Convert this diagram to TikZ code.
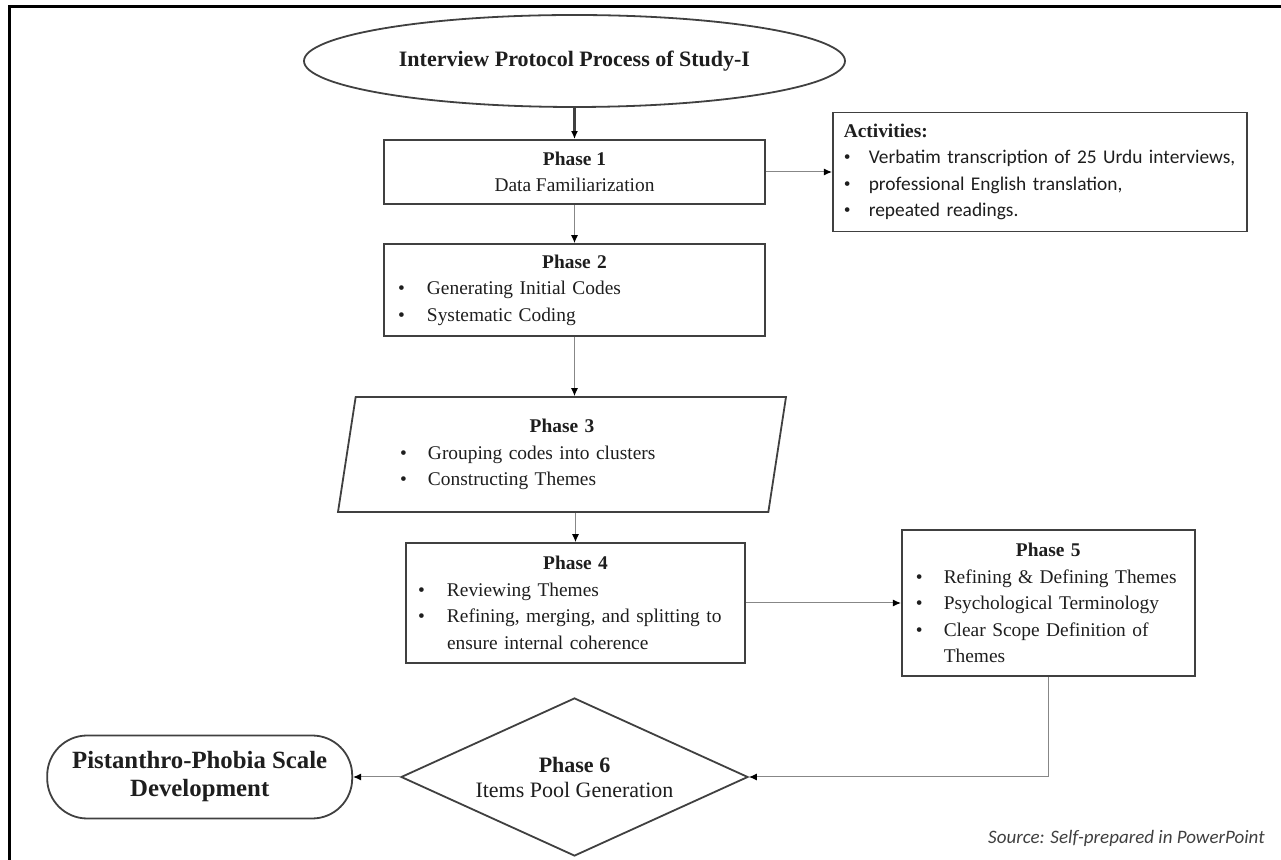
\documentclass[tikz,border=0pt]{standalone}
\usepackage{fontspec}
\setmainfont{Liberation Serif}
\newfontfamily\calibrifont{Carlito}
\usetikzlibrary{arrows.meta, positioning, shapes.geometric, calc}
\definecolor{BoxLine}{RGB}{64, 64, 64}
\definecolor{LinkGray}{RGB}{135, 135, 135}
\definecolor{TextDark}{RGB}{30, 30, 30}
\newcommand{\phbul}[1][14.5pt]{\makebox[#1][l]{\textbullet}}
\newcommand{\phhead}[1]{\hfill\textbf{#1}\hfill\null\\}

\begin{document}
\begin{tikzpicture}[
    x=0.5pt, y=-0.5pt,
    every node/.style={text=TextDark},
    phase/.style={draw=BoxLine, line width=0.9pt, fill=white, inner xsep=7pt, inner ysep=0pt, font=\fontsize{9.7}{13.3}\selectfont},
    bulletbox/.style={phase, align=left},
    link/.style={-{Latex[length=4pt, width=3.5pt, color=black]}, LinkGray, line width=0.5pt},
    mainlink/.style={-{Latex[length=4pt, width=3.5pt, color=black]}, BoxLine, line width=1.1pt}
]
\useasboundingbox (0,0) rectangle (1281,860);

% Frame
\draw[line width=1.5pt] (9,860) -- (9,7) -- (1281,7);

% Title
\node[ellipse, draw=BoxLine, line width=0.9pt, minimum width=270.5pt, minimum height=46pt, inner sep=0pt, font=\fontsize{11}{13}\selectfont\bfseries] (title) at (574.5,61) {Interview Protocol Process of Study-I};

% Phases
\node[phase, align=center, minimum width=190.5pt, minimum height=32pt] (p1) at (574.5,172) {\textbf{Phase 1}\\Data Familiarization};
\node[bulletbox, text width=196pt, inner xsep=5.5pt, minimum height=59.5pt, right=33pt of p1] (act) {%
    \textbf{Activities:}\\
    \phbul[12.5pt]{\calibrifont Verbatim transcription of 25 Urdu interviews,}\\
    \phbul[12.5pt]{\calibrifont professional English translation,}\\
    \phbul[12.5pt]{\calibrifont repeated readings.}};
\node[bulletbox, text width=176.5pt, minimum height=46pt] (p2) at (574.5,290) {%
    \phhead{Phase 2}\phbul Generating Initial Codes\\ \phbul Systematic Coding};
\node[bulletbox, trapezium, trapezium left angle=76, trapezium right angle=104, trapezium stretches body, text width=162pt, inner xsep=0pt, minimum width=224pt, minimum height=57.5pt] (p3) at (562,454.5) {%
    \phhead{Phase 3}\phbul[14pt]Grouping codes into clusters\\ \phbul[14pt]Constructing Themes};
\node[bulletbox, text width=157.5pt, inner xsep=6pt, minimum height=60pt] (p4) at (575.5,603) {%
    \phhead{Phase 4}\phbul Reviewing Themes\\ \phbul Refining, merging, and splitting to\\ \hspace*{14.5pt}ensure internal coherence};
\node[bulletbox, text width=132.5pt, minimum height=73pt, right=77.5pt of p4] (p5) {%
    \phhead{Phase 5}\phbul[14pt]Refining \& Defining Themes\\ \phbul[14pt]Psychological Terminology\\ \phbul[14pt]Clear Scope Definition of\\ \hspace*{14pt}Themes};
\node[diamond, draw=BoxLine, line width=0.9pt, fill=white, aspect=2.2, minimum width=173.5pt, minimum height=79pt, inner sep=0pt, align=center, font=\fontsize{11}{12.5}\selectfont] (p6) at (574.5,777) {\textbf{Phase 6}\\Items Pool Generation};

% Outcome
\node[draw=BoxLine, line width=0.9pt, rounded corners=20pt, minimum width=152.5pt, minimum height=41.5pt, align=center, font=\fontsize{12.4}{14}\selectfont\bfseries, left=23.5pt of p6] (scale) {Pistanthro-Phobia Scale\\Development};

% Source note
\node[anchor=east, inner sep=0pt, text=BoxLine, font=\calibrifont\itshape\fontsize{9.5}{11}\selectfont] (source) at (1265,838) {Source: Self-prepared in PowerPoint};

% Connectors
\draw[mainlink] (title) -- (p1);
\draw[link] (p1) -- (act);
\draw[link] (p1) -- (p2);
\draw[link] (p2.south) -- (p2.south |- p3.north);
\draw[link] (p4.north |- p3.south) -- (p4.north);
\draw[link] (p4) -- (p5);
\draw[link] (p5.south) |- (p6.east);
\draw[link] (p6) -- (scale);

\end{tikzpicture}
\end{document}
